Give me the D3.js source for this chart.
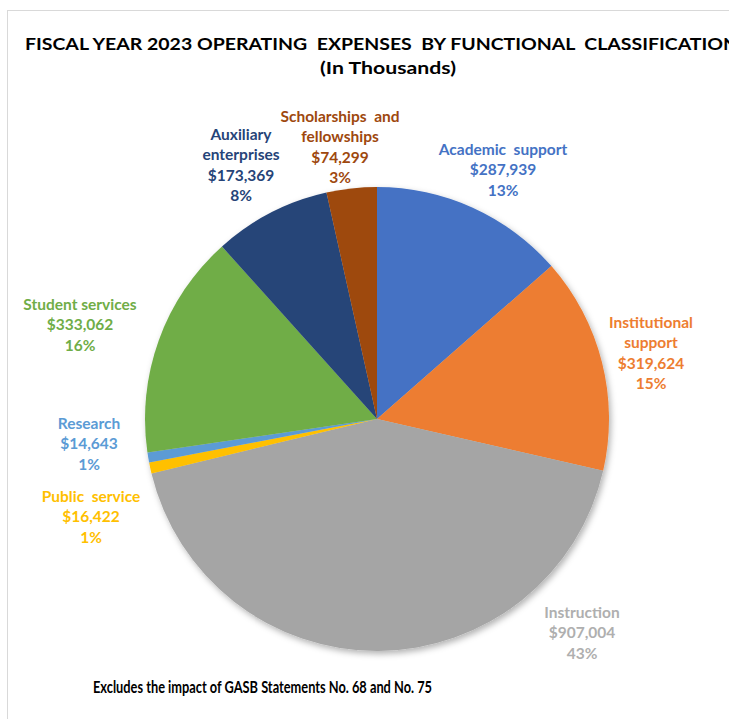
<!DOCTYPE html>
<html>
<head>
<meta charset="utf-8">
<script src="https://cdn.jsdelivr.net/npm/d3@7"></script>
<style>
  body { margin: 0; background: #fff; }
  svg { display: block; }
  text { font-family: Lato, "Open Sans", sans-serif; font-weight: bold; white-space: pre; }
</style>
</head>
<body>
<div id="chart"></div>
<script>
var width = 729, height = 719

// data, clockwise from 12 o'clock
var categories = ["Academic support", "Institutional support", "Instruction", "Public service",
                  "Research", "Student services", "Auxiliary enterprises", "Scholarships and fellowships"]
var values = [287939, 319624, 907004, 16422, 14643, 333062, 173369, 74299]
var percents = ["13%", "15%", "43%", "1%", "1%", "16%", "8%", "3%"]
var labelLines = [
    ["Academic  support"],
    ["Institutional", "support"],
    ["Instruction"],
    ["Public  service"],
    ["Research"],
    ["Student services"],
    ["Auxiliary", "enterprises"],
    ["Scholarships  and", "fellowships"]
]
var colors = ["#4472C4", "#ED7D31", "#A5A5A5", "#FFC000", "#5B9BD5", "#70AD47", "#264478", "#9E480E"]
var labelColors = ["#4472C4", "#ED7D31", "#AFAFAF", "#FFC000", "#5B9BD5", "#70AD47", "#264478", "#9E480E"]
// label block layout: center x, center y of first line
var labelPos = [[503, 149], [651, 322], [582, 612], [91, 496], [89, 423], [80, 304], [241, 134], [340, 116]]

var cx = 377, cy = 419, r = 232
var lineH = 20.6

var svg = d3.select("#chart").append("svg")
    .attr("width", width)
    .attr("height", height)

svg.append("rect")
    .attr("x", 7.5).attr("y", 10.5)
    .attr("width", 800).attr("height", 800)
    .attr("fill", "none")
    .attr("stroke", "#d9d9d9")
    .attr("stroke-width", 1)

var defs = svg.append("defs")
defs.append("filter")
    .attr("id", "shadow")
    .attr("x", "-10%").attr("y", "-10%")
    .attr("width", "130%").attr("height", "130%")
    .append("feDropShadow")
        .attr("dx", 2).attr("dy", 3)
        .attr("stdDeviation", 3)
        .attr("flood-color", "#000")
        .attr("flood-opacity", 0.3)

svg.append("text")
    .attr("x", 25).attr("y", 50)
    .attr("textLength", 713)
    .attr("lengthAdjust", "spacingAndGlyphs")
    .style("font-size", "17px")
    .attr("fill", "#000")
    .text("FISCAL YEAR 2023 OPERATING  EXPENSES  BY FUNCTIONAL  CLASSIFICATION")
svg.append("text")
    .attr("x", 388).attr("y", 74)
    .attr("text-anchor", "middle")
    .attr("textLength", 136)
    .attr("lengthAdjust", "spacingAndGlyphs")
    .style("font-size", "17px")
    .attr("fill", "#000")
    .text("(In Thousands)")

var pie = d3.pie().sort(null).value(d => d)
var arc = d3.arc().innerRadius(0).outerRadius(r)

var g = svg.append("g")
    .attr("transform", "translate(" + cx + "," + cy + ")")
    .attr("filter", "url(#shadow)")

g.selectAll("path")
    .data(pie(values))
    .join("path")
        .attr("d", arc)
        .attr("fill", (d, i) => colors[i])

var fmt = d3.format(",")

categories.forEach((c, i) => {
    var lines = labelLines[i].concat(["$" + fmt(values[i]), percents[i]])
    var t = svg.append("text")
        .attr("text-anchor", "middle")
        .attr("fill", labelColors[i])
        .style("font-size", "15.5px")
    lines.forEach((l, j) => {
        t.append("tspan")
            .attr("x", labelPos[i][0])
            .attr("y", labelPos[i][1] + j * lineH + 5.5)
            .text(l)
    })
})

svg.append("text")
    .attr("x", 262.5).attr("y", 693)
    .attr("text-anchor", "middle")
    .attr("textLength", 339)
    .attr("lengthAdjust", "spacingAndGlyphs")
    .style("font-size", "17px")
    .attr("fill", "#000")
    .text("Excludes the impact of GASB Statements No. 68 and No. 75")
</script>
</body>
</html>
